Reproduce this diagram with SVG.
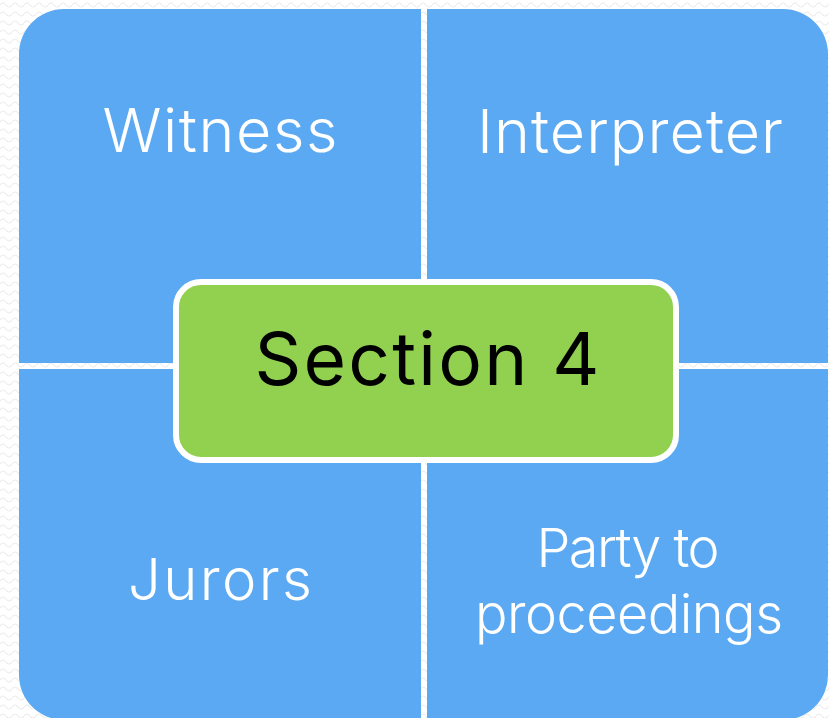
<svg xmlns="http://www.w3.org/2000/svg" width="829" height="718" viewBox="0 0 829 718">
  <defs>
    <pattern id="bg" width="12" height="9" patternUnits="userSpaceOnUse">
      <path d="M0 5 Q3 1 6 5 T12 5" fill="none" stroke="#ececec" stroke-width="1.2"/>
    </pattern>
    <style>
      .quad { fill: #5BA9F2; }
      .qt { font-family: Inter, "Liberation Sans", Arial, sans-serif; font-weight: 300; fill: #ffffff; text-anchor: middle; }
      .center { fill: #92D050; stroke: #ffffff; stroke-width: 6; }
      .ct { font-family: Inter, "Liberation Sans", Arial, sans-serif; font-weight: 400; fill: #000000; text-anchor: middle; font-size: 73px; }
    </style>
  </defs>
  <rect width="829" height="718" fill="#ffffff"/>
  <rect width="829" height="718" fill="url(#bg)"/>

  <g id="witness">
    <path class="quad" d="M19,363 V54 A45,45 0 0 1 64,9 H421 V363 Z"/>
    <text class="qt" x="220" y="152" font-size="61" textLength="235" lengthAdjust="spacing">Witness</text>
  </g>
  <g id="interpreter">
    <path class="quad" d="M427,9 H783 A45,45 0 0 1 828,54 V363 H427 Z"/>
    <text class="qt" x="630" y="153" font-size="61" textLength="306" lengthAdjust="spacing">Interpreter</text>
  </g>
  <g id="jurors">
    <path class="quad" d="M19,369 H421 V720 H64 A45,45 0 0 1 19,675 Z"/>
    <text class="qt" x="220" y="600" font-size="58" textLength="184" lengthAdjust="spacing">Jurors</text>
  </g>
  <g id="party">
    <path class="quad" d="M427,369 H828 V675 A45,45 0 0 1 783,720 H427 Z"/>
    <text class="qt" x="628" y="567" font-size="54" textLength="183" lengthAdjust="spacing">Party to</text>
    <text class="qt" x="629" y="633" font-size="54" textLength="308" lengthAdjust="spacing">proceedings</text>
  </g>
  <g id="connectors"/>
  <g id="section4">
    <rect class="center" x="176" y="282" width="500" height="178" rx="25" ry="25"/>
    <text class="ct" x="427" y="385" textLength="345" lengthAdjust="spacing">Section 4</text>
  </g>
</svg>
